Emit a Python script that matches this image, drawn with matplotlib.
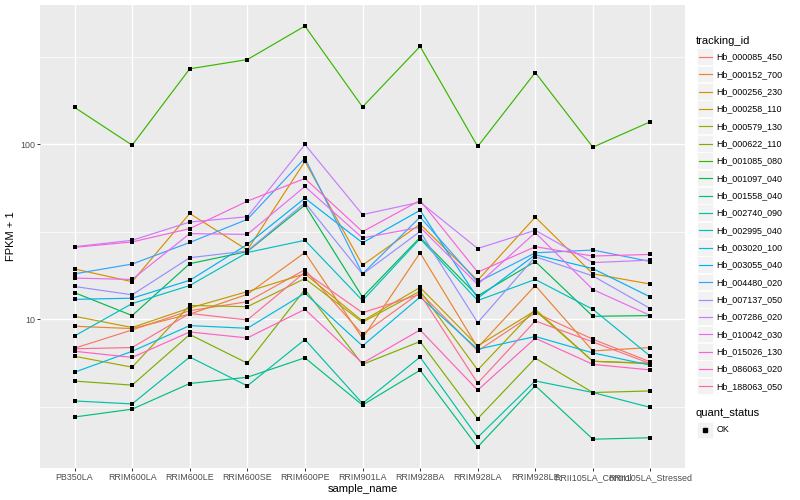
import numpy as np
import matplotlib.pyplot as plt
from matplotlib.lines import Line2D
from matplotlib.patches import Rectangle
from matplotlib.ticker import FixedLocator, NullFormatter

plt.rcParams['font.family'] = ['Liberation Sans', 'DejaVu Sans']

# sample names on the x axis
samples = ['PB350LA', 'RRIM600LA', 'RRIM600LE', 'RRIM600SE', 'RRIM600PE',
           'RRIM901LA', 'RRIM928BA', 'RRIM928LA', 'RRIM928LE',
           'RRII105LA_Control', 'RRII105LA_Stressed']

# FPKM + 1 per gene, one value per sample
hb_000085_450 = [6.83, 8.69, 11.2, 12.6, 19.2, 8.21, 14.2, 6.59, 10.9, 7.69, 5.70]
hb_000152_700 = [9.12, 8.85, 10.7, 13.9, 24.1, 7.79, 24.0, 6.89, 15.6, 6.59, 6.89]
hb_000256_230 = [19.4, 16.4, 40.3, 24.9, 80.0, 20.4, 35.0, 16.7, 38.4, 18.2, 15.9]
hb_000258_110 = [10.4, 8.97, 11.6, 14.4, 18.2, 9.78, 15.2, 7.04, 11.2, 5.75, 5.57]
hb_000579_130 = [6.14, 5.32, 12.0, 11.8, 17.1, 9.61, 14.5, 5.13, 11.4, 5.75, 5.61]
hb_000622_110 = [4.43, 4.20, 8.18, 5.61, 14.8, 5.52, 7.46, 2.70, 5.99, 3.81, 3.89]
hb_001085_080 = [163, 99.1, 271, 306, 476, 164, 364, 97.4, 258, 96.5, 135]
hb_001097_040 = [14.2, 10.5, 20.8, 24.4, 45.0, 13.4, 29.4, 13.6, 21.4, 10.4, 10.5]
hb_001558_040 = [2.76, 3.06, 4.29, 4.66, 6.02, 3.23, 5.11, 1.86, 4.17, 2.06, 2.10]
hb_002740_090 = [3.41, 3.28, 6.08, 4.16, 7.66, 3.30, 6.08, 2.11, 4.44, 3.81, 3.13]
hb_002995_040 = [8.03, 12.3, 15.6, 24.1, 28.3, 12.8, 28.9, 12.8, 16.9, 11.4, 6.14]
hb_003020_100 = [4.98, 6.56, 9.20, 8.88, 14.1, 7.04, 13.4, 6.74, 7.97, 6.42, 5.46]
hb_003055_040 = [13.0, 13.2, 16.7, 26.8, 49.3, 27.4, 42.0, 13.2, 23.4, 19.5, 13.4]
hb_004480_020 = [18.2, 20.7, 27.5, 37.3, 83.5, 18.2, 38.4, 16.3, 24.0, 24.9, 21.4]
hb_007137_050 = [15.4, 13.8, 22.5, 24.6, 46.4, 18.1, 31.8, 9.57, 22.8, 17.7, 11.5]
hb_007286_020 = [26.0, 28.3, 36.0, 38.6, 100, 39.7, 46.8, 25.4, 32.3, 21.1, 21.8]
hb_010042_030 = [17.2, 16.9, 30.9, 30.6, 57.5, 29.2, 33.6, 15.8, 31.3, 14.8, 10.5]
hb_015026_130 = [25.8, 27.7, 33.0, 47.4, 63.9, 31.7, 47.9, 18.6, 26.0, 23.0, 23.5]
hb_086063_020 = [6.56, 6.05, 8.46, 7.82, 11.4, 5.61, 8.69, 3.93, 7.79, 5.52, 5.13]
hb_188063_050 = [6.78, 6.89, 10.8, 9.91, 18.6, 10.9, 13.9, 4.31, 9.78, 7.42, 5.57]

tracking_ids = ['Hb_000085_450', 'Hb_000152_700', 'Hb_000256_230', 'Hb_000258_110',
                'Hb_000579_130', 'Hb_000622_110', 'Hb_001085_080', 'Hb_001097_040',
                'Hb_001558_040', 'Hb_002740_090', 'Hb_002995_040', 'Hb_003020_100',
                'Hb_003055_040', 'Hb_004480_020', 'Hb_007137_050', 'Hb_007286_020',
                'Hb_010042_030', 'Hb_015026_130', 'Hb_086063_020', 'Hb_188063_050']
series = [hb_000085_450, hb_000152_700, hb_000256_230, hb_000258_110, hb_000579_130,
          hb_000622_110, hb_001085_080, hb_001097_040, hb_001558_040, hb_002740_090,
          hb_002995_040, hb_003020_100, hb_003055_040, hb_004480_020, hb_007137_050,
          hb_007286_020, hb_010042_030, hb_015026_130, hb_086063_020, hb_188063_050]

# default ggplot hue palette for 20 levels
colors = ['#F8766D', '#EA8331', '#D89000', '#C09B00', '#A3A500', '#7CAE00', '#39B600',
          '#00BB4E', '#00BF7D', '#00C1A3', '#00BFC4', '#00BAE0', '#00B0F6', '#35A2FF',
          '#9590FF', '#C77CFF', '#E76BF3', '#FA62DB', '#FF62BC', '#FF6C91']

W, H = 800, 500
fig = plt.figure(figsize=(W / 100, H / 100), dpi=100)

def fx(px):
    return px / W

def fy(py):
    return 1 - py / H

# panel in pixels: left 40, right 685, top 5, bottom 468
ax = fig.add_axes([fx(40), fy(468), fx(685) - fx(40), fy(5) - fy(468)])
ax.set_facecolor('#EBEBEB')
for s in ax.spines.values():
    s.set_visible(False)

x = np.arange(len(samples))
for vals, c in zip(series, colors):
    ax.plot(x, vals, color=c, lw=0.85, zorder=2)
for vals in series:
    ax.scatter(x, vals, s=7, color='black', marker='s', linewidths=0, zorder=3)

ax.set_yscale('log')
allv = np.log10(np.concatenate([np.array(v, float) for v in series]))
lo, hi = allv.min(), allv.max()
pad = 0.05 * (hi - lo)
ax.set_ylim(10 ** (lo - pad), 10 ** (hi + pad))
ax.set_xlim(-0.6, len(samples) - 0.4)

ax.yaxis.set_major_locator(FixedLocator([1, 10, 100, 1000]))
ax.set_yticklabels(['1', '10', '100', '1000'])
ax.yaxis.set_minor_locator(FixedLocator([10 ** 0.5, 10 ** 1.5, 10 ** 2.5]))
ax.yaxis.set_minor_formatter(NullFormatter())
ax.set_xticks(x)
ax.set_xticklabels(samples)

ax.grid(True, which='major', color='white', lw=1.0, zorder=0)
ax.grid(True, which='minor', axis='y', color='white', lw=0.5, zorder=0)
ax.set_axisbelow(True)
ax.tick_params(which='major', length=2.0, width=0.7, color='#333333',
               labelsize=6.4, labelcolor='#4D4D4D', pad=1.6)
ax.tick_params(which='minor', length=0)

ax.set_xlabel('sample_name', fontsize=8, labelpad=1.5)
ax.set_ylabel('FPKM + 1', fontsize=8, labelpad=3)

# legend drawn like ggplot's guide: gray key boxes
fig.text(fx(696), fy(40.5), 'tracking_id', fontsize=8, va='center', ha='left')
for i, (name, c) in enumerate(zip(tracking_ids, colors)):
    cy = 57 + 17.33 * i
    fig.add_artist(Rectangle((fx(697), fy(cy + 8)), fx(16), fy(cy - 8.5) - fy(cy + 8),
                             transform=fig.transFigure, facecolor='#F2F2F2',
                             edgecolor='white', lw=0.5))
    fig.add_artist(Line2D([fx(698.5), fx(711.5)], [fy(cy), fy(cy)],
                          transform=fig.transFigure, color=c, lw=0.85))
    fig.text(fx(716.5), fy(cy), name, fontsize=6.4, va='center', ha='left')

fig.text(fx(696), fy(413), 'quant_status', fontsize=8, va='center', ha='left')
fig.add_artist(Rectangle((fx(697), fy(437.5)), fx(16), fy(421.5) - fy(437.5),
                         transform=fig.transFigure, facecolor='#F2F2F2',
                         edgecolor='white', lw=0.5))
fig.add_artist(Line2D([fx(705)], [fy(429.5)], transform=fig.transFigure,
                      marker='s', ms=2.6, color='black', lw=0))
fig.text(fx(716.5), fy(429.5), 'OK', fontsize=6.4, va='center', ha='left')

fig.savefig('out.png', dpi=100)
